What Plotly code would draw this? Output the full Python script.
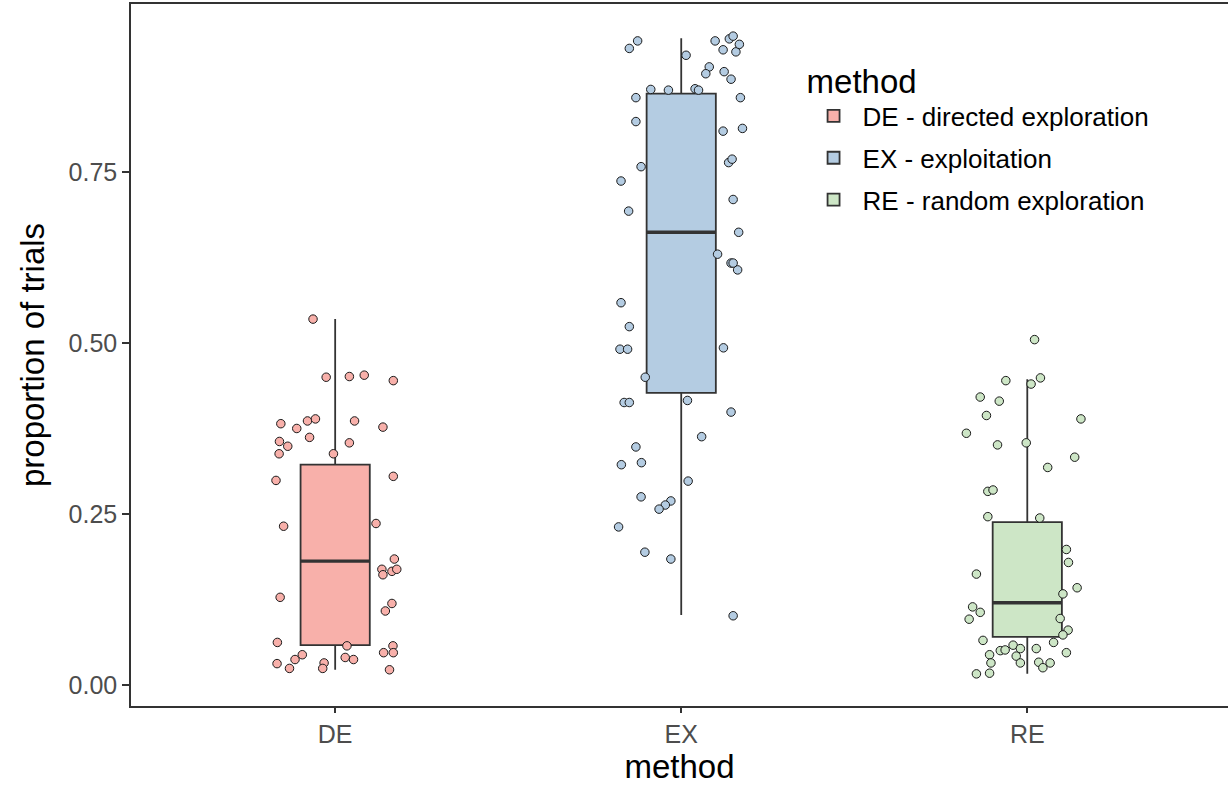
import plotly.graph_objects as go

categories = ["DE", "EX", "RE"]
legend_names = ["DE - directed exploration", "EX - exploitation", "RE - random exploration"]
fill_colors = ["#F8B0AA", "#B4CCE2", "#CDE6C6"]

# box statistics
q1 = [0.058, 0.427, 0.070]
median = [0.181, 0.662, 0.120]
q3 = [0.322, 0.865, 0.238]
lower_whisker = [0.022, 0.102, 0.016]
upper_whisker = [0.535, 0.946, 0.447]

# jittered points: horizontal jitter offset (category units) and value
de_jitter = [-0.064, -0.026, 0.041, 0.084, 0.168, -0.157, -0.111, -0.080, -0.057, 0.056,
             0.138, -0.161, -0.137, -0.074, 0.041, -0.162, -0.005, -0.171, 0.168, -0.149,
             0.118, 0.171, 0.135, 0.138, 0.164, 0.178, -0.159, 0.164, 0.145, -0.167,
             0.034, 0.167, 0.140, 0.168, -0.095, -0.116, -0.168, -0.132, -0.032, -0.036,
             0.029, 0.053, 0.157]
de_values = [0.535, 0.450, 0.451, 0.453, 0.445, 0.382, 0.375, 0.386, 0.389, 0.386,
             0.377, 0.356, 0.349, 0.362, 0.354, 0.338, 0.338, 0.299, 0.305, 0.232,
             0.236, 0.184, 0.169, 0.161, 0.166, 0.169, 0.128, 0.119, 0.108, 0.062,
             0.057, 0.057, 0.047, 0.047, 0.044, 0.037, 0.031, 0.024, 0.032, 0.024,
             0.040, 0.037, 0.022]

ex_jitter = [-0.150, -0.126, 0.014, 0.098, 0.121, 0.139, 0.150, 0.158, 0.168, 0.081,
             0.071, 0.124, 0.144, -0.088, -0.037, 0.040, 0.050, -0.131, 0.171, -0.131,
             0.121, 0.177, 0.137, 0.147, -0.116, -0.174, 0.150, -0.152, 0.166, 0.105,
             0.144, 0.163, 0.150, -0.174, -0.150, -0.177, -0.155, 0.122, -0.104, -0.165,
             -0.150, 0.018, 0.144, 0.059, -0.131, -0.173, -0.115, 0.020, -0.116, -0.030,
             -0.046, -0.064, -0.181, -0.105, -0.030, 0.150]
ex_values = [0.931, 0.942, 0.921, 0.942, 0.929, 0.945, 0.949, 0.926, 0.937, 0.904,
             0.894, 0.897, 0.886, 0.871, 0.870, 0.872, 0.870, 0.859, 0.859, 0.824,
             0.810, 0.814, 0.764, 0.769, 0.758, 0.737, 0.710, 0.693, 0.662, 0.630,
             0.617, 0.607, 0.617, 0.559, 0.524, 0.491, 0.491, 0.493, 0.450, 0.413,
             0.413, 0.416, 0.399, 0.363, 0.348, 0.322, 0.325, 0.298, 0.275, 0.269,
             0.263, 0.257, 0.231, 0.194, 0.184, 0.101]

re_jitter = [0.021, -0.062, 0.038, 0.011, -0.136, -0.081, -0.118, 0.155, -0.176, -0.086,
             -0.003, 0.137, 0.059, -0.114, -0.099, -0.114, 0.036, 0.113, 0.119, -0.147,
             0.144, 0.103, -0.158, -0.136, -0.168, 0.095, 0.118, 0.103, -0.128, 0.076,
             -0.041, -0.078, -0.064, -0.020, 0.026, 0.113, -0.109, -0.032, -0.105, -0.020,
             0.033, 0.066, 0.045, -0.147, -0.109]
re_values = [0.505, 0.445, 0.449, 0.440, 0.421, 0.415, 0.394, 0.389, 0.368, 0.351,
             0.354, 0.333, 0.318, 0.283, 0.285, 0.246, 0.244, 0.198, 0.179, 0.162,
             0.142, 0.133, 0.114, 0.106, 0.096, 0.097, 0.080, 0.073, 0.065, 0.062,
             0.058, 0.050, 0.051, 0.053, 0.053, 0.047, 0.044, 0.042, 0.032, 0.032,
             0.033, 0.032, 0.025, 0.016, 0.017]

jitters = [de_jitter, ex_jitter, re_jitter]
values = [de_values, ex_values, re_values]

y_ticks = [0.0, 0.25, 0.5, 0.75]
y_tick_labels = ["0.00", "0.25", "0.50", "0.75"]

BOX_W = 0.2
LINE_C = "#333333"
FONT = "Liberation Sans, Arial, sans-serif"

fig = go.Figure()

for i, cat in enumerate(categories):
    fig.add_trace(go.Box(
        x=[i], q1=[q1[i]], median=[median[i]], q3=[q3[i]],
        lowerfence=[lower_whisker[i]], upperfence=[upper_whisker[i]],
        name=legend_names[i], legendgroup=cat, width=BOX_W, whiskerwidth=0,
        fillcolor=fill_colors[i], line=dict(color=LINE_C, width=1.8),
        boxpoints=False, showlegend=True, hoverinfo="skip",
    ))

for i, cat in enumerate(categories):
    fig.add_trace(go.Scatter(
        x=[i - BOX_W / 2, i + BOX_W / 2], y=[median[i], median[i]],
        mode="lines", line=dict(color=LINE_C, width=3.4),
        showlegend=False, hoverinfo="skip", legendgroup=cat,
    ))

for i, cat in enumerate(categories):
    fig.add_trace(go.Scatter(
        x=[i + j for j in jitters[i]], y=values[i],
        mode="markers",
        marker=dict(size=8.5, color=fill_colors[i], line=dict(color="#1a1a1a", width=1)),
        showlegend=False, hoverinfo="skip", legendgroup=cat,
    ))

fig.update_layout(
    width=1228, height=786,
    margin=dict(l=131, r=0, t=4, b=80, autoexpand=False),
    plot_bgcolor="white", paper_bgcolor="white",
    font=dict(family=FONT, color="black"),
    showlegend=True,
    legend=dict(
        x=0.614, y=0.935, xanchor="left", yanchor="top",
        bgcolor="rgba(0,0,0,0)",
        title=dict(text="method", font=dict(size=33, family=FONT, color="black")),
        font=dict(size=26, family=FONT, color="black"),
        tracegroupgap=5, itemwidth=48,
    ),
    xaxis=dict(
        range=[-0.59, 2.58], automargin=False,
        tickmode="array", tickvals=[0, 1, 2], ticktext=categories,
        tickfont=dict(size=25, color="#4D4D4D", family=FONT),
        ticks="outside", ticklen=5, tickcolor="#333333", tickwidth=1.5,
        showline=True, linecolor="#333333", linewidth=1.5, mirror=True,
        showgrid=False, zeroline=False,
        title=dict(text="method", font=dict(size=33, family=FONT, color="black"), standoff=4),
    ),
    yaxis=dict(
        range=[-0.031, 0.996], automargin=False,
        tickmode="array", tickvals=y_ticks, ticktext=y_tick_labels,
        tickfont=dict(size=25, color="#4D4D4D", family=FONT),
        ticks="outside", ticklen=7, tickcolor="#333333", tickwidth=1.5,
        showline=True, linecolor="#333333", linewidth=1.5,
        showgrid=False, zeroline=False,
        title=dict(text="proportion of trials", font=dict(size=33, family=FONT, color="black"), standoff=14),
    ),
)

fig.write_html("out.html", config={"displayModeBar": False},
               post_script="document.body.style.margin='0';")
